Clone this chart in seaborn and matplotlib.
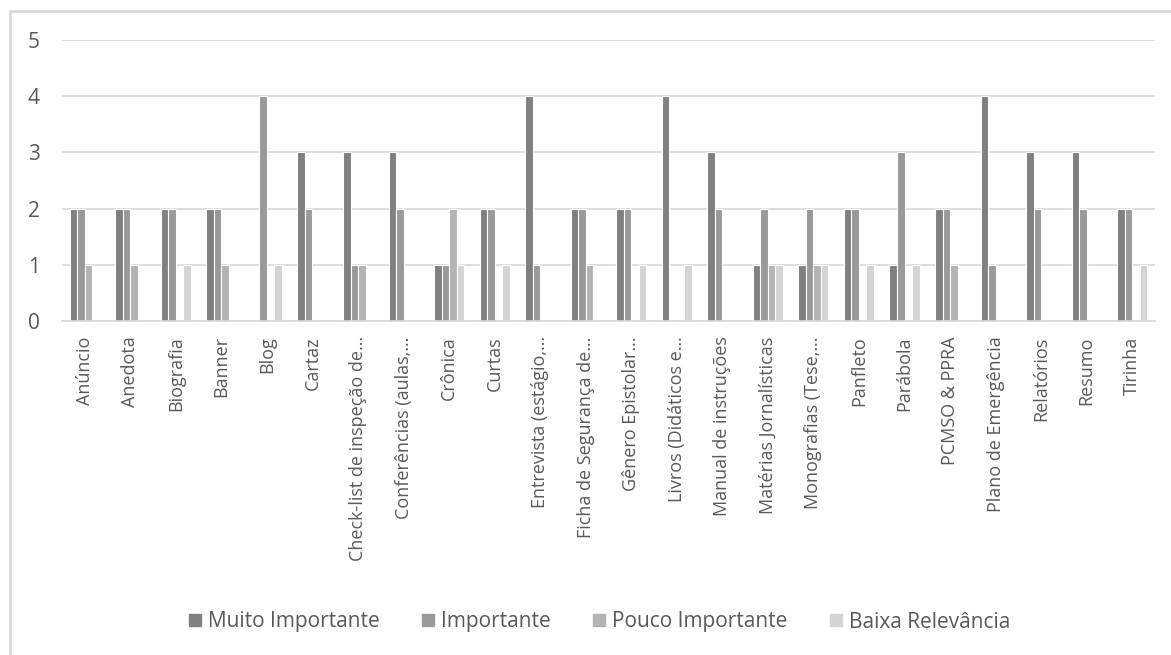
import matplotlib
matplotlib.use("Agg")
import matplotlib.pyplot as plt
from matplotlib.lines import Line2D
import seaborn as sns
import pandas as pd

categories = [
    "Anúncio", "Anedota", "Biografia", "Banner", "Blog", "Cartaz",
    "Check-list de inspeção de…", "Conferências (aulas,…", "Crônica", "Curtas",
    "Entrevista (estágio,…", "Ficha de Segurança de…", "Gênero Epistolar…",
    "Livros (Didáticos e…", "Manual de instruções", "Matérias Jornalísticas",
    "Monografias (Tese,…", "Panfleto", "Parábola", "PCMSO & PPRA",
    "Plano de Emergência", "Relatórios", "Resumo", "Tirinha",
]
series_names = ["Muito Importante", "Importante", "Pouco Importante", "Baixa Relevância"]
muito_importante = [2, 2, 2, 2, 0, 3, 3, 3, 1, 2, 4, 2, 2, 4, 3, 1, 1, 2, 1, 2, 4, 3, 3, 2]
importante       = [2, 2, 2, 2, 4, 2, 1, 2, 1, 2, 1, 2, 2, 0, 2, 2, 2, 2, 3, 2, 1, 2, 2, 2]
pouco_importante = [1, 1, 0, 1, 0, 0, 1, 0, 2, 0, 0, 1, 0, 0, 0, 1, 1, 0, 0, 1, 0, 0, 0, 0]
baixa_relevancia = [0, 0, 1, 0, 1, 0, 0, 0, 1, 1, 0, 0, 1, 1, 0, 1, 1, 1, 1, 0, 0, 0, 0, 1]
y_ticks = [0, 1, 2, 3, 4, 5]
colors = ["#808080", "#999999", "#b3b3b3", "#d4d4d4"]

rows = []
for name, vals in zip(series_names, [muito_importante, importante, pouco_importante, baixa_relevancia]):
    for c, v in zip(categories, vals):
        rows.append({"Categoria": c, "Série": name, "Valor": v})
df = pd.DataFrame(rows)

sns.set_theme(style="white")
plt.rcParams["font.family"] = ["Open Sans", "DejaVu Sans"]
text_color = "#595959"
grid_color = "#d9d9d9"

fig = plt.figure(figsize=(11.71, 6.55), dpi=100)
ax = fig.add_axes([62 / 1171, 1 - 321 / 655, (1155 - 62) / 1171, (321 - 40) / 655])

sns.barplot(data=df, x="Categoria", y="Valor", hue="Série", hue_order=series_names,
            order=categories, palette=colors, width=0.66, edgecolor="white",
            linewidth=0.8, legend=False, ax=ax, errorbar=None, saturation=1)

ax.set_ylim(0, 5)
ax.set_yticks(y_ticks)
ax.set_xlim(-0.5, len(categories) - 0.5)
ax.yaxis.grid(True, color=grid_color, linewidth=1.2)
ax.set_axisbelow(True)
for s in ["top", "right", "left"]:
    ax.spines[s].set_visible(False)
ax.spines["bottom"].set_color(grid_color)
ax.spines["bottom"].set_linewidth(1.2)
ax.set_xlabel("")
ax.set_ylabel("")
ax.tick_params(axis="y", length=0, pad=16, labelsize=15, labelcolor=text_color)
ax.tick_params(axis="x", length=0, pad=11, labelsize=13, labelcolor=text_color)
plt.setp(ax.get_xticklabels(), rotation=90, va="top", ha="center")

handles = [Line2D([], [], marker="s", linestyle="none", markersize=8,
                  markerfacecolor=c, markeredgecolor=c) for c in colors]
fig.legend(handles, series_names, loc="center", bbox_to_anchor=(599 / 1171, 1 - 622 / 655),
           ncol=4, frameon=False, fontsize=15, labelcolor=text_color,
           handletextpad=0.25, columnspacing=2.0, handlelength=0.7)

# chart area border
fig.add_artist(Line2D([10 / 1171, 10 / 1171], [0, 1 - 11 / 655], transform=fig.transFigure,
                      color=grid_color, linewidth=2))
fig.add_artist(Line2D([10 / 1171, 1], [1 - 11 / 655, 1 - 11 / 655], transform=fig.transFigure,
                      color=grid_color, linewidth=2))

fig.savefig("out.png", dpi=100)
